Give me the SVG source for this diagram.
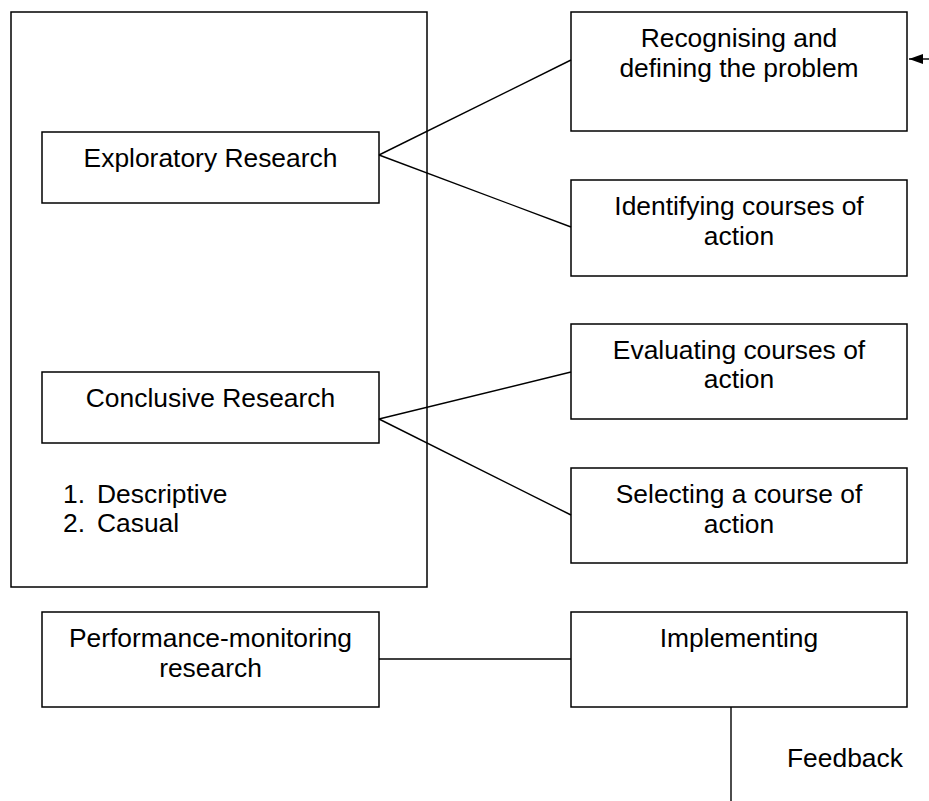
<svg xmlns="http://www.w3.org/2000/svg" width="929" height="801" viewBox="0 0 929 801">
  <style>
    .box { fill: #ffffff; stroke: #000000; stroke-width: 1.5; }
    .frame { fill: none; stroke: #000000; stroke-width: 1.5; }
    .link { fill: none; stroke: #000000; stroke-width: 1.4; }
    text { font-family: "Liberation Sans", Arial, sans-serif; font-size: 26.4px; fill: #000000; }
    .c { text-anchor: middle; }
  </style>
  <defs>
    <marker id="arrowhead" markerWidth="14" markerHeight="10" refX="14" refY="5" orient="auto" markerUnits="userSpaceOnUse">
      <path d="M0,0 L14,5 L0,10 Z" fill="#000000"/>
    </marker>
  </defs>

  <rect width="929" height="801" fill="#ffffff"/>

  <!-- Research types panel -->
  <g id="research-panel">
    <rect class="frame" x="11" y="12" width="416" height="575"/>
  </g>

  <g id="exploratory">
    <rect class="box" x="42" y="132" width="337" height="71"/>
    <text class="c" x="210.5" y="167">Exploratory Research</text>
  </g>

  <g id="conclusive">
    <rect class="box" x="42" y="372" width="337" height="71"/>
    <text class="c" x="210.5" y="407">Conclusive Research</text>
  </g>

  <g id="conclusive-kinds">
    <text x="63" y="503">1.</text>
    <text x="97" y="503">Descriptive</text>
    <text x="63" y="532">2.</text>
    <text x="97" y="532">Casual</text>
  </g>

  <g id="performance-monitoring">
    <rect class="box" x="42" y="612" width="337" height="95"/>
    <text class="c" x="210.5" y="647">Performance-monitoring</text>
    <text class="c" x="210.5" y="677">research</text>
  </g>

  <!-- Decision-making stages -->
  <g id="recognising">
    <rect class="box" x="571" y="12" width="336" height="119"/>
    <text class="c" x="739" y="47">Recognising and</text>
    <text class="c" x="739" y="77">defining the problem</text>
  </g>

  <g id="identifying">
    <rect class="box" x="571" y="180" width="336" height="96"/>
    <text class="c" x="739" y="215">Identifying courses of</text>
    <text class="c" x="739" y="245">action</text>
  </g>

  <g id="evaluating">
    <rect class="box" x="571" y="324" width="336" height="95"/>
    <text class="c" x="739" y="359">Evaluating courses of</text>
    <text class="c" x="739" y="388">action</text>
  </g>

  <g id="selecting">
    <rect class="box" x="571" y="468" width="336" height="95"/>
    <text class="c" x="739" y="503">Selecting a course of</text>
    <text class="c" x="739" y="533">action</text>
  </g>

  <g id="implementing">
    <rect class="box" x="571" y="612" width="336" height="95"/>
    <text class="c" x="739" y="647">Implementing</text>
  </g>

  <g id="feedback-label">
    <text x="787" y="767">Feedback</text>
  </g>

  <!-- Connectors -->
  <g id="connectors">
    <line class="link" x1="379" y1="155" x2="571" y2="60"/>
    <line class="link" x1="379" y1="155" x2="571" y2="227"/>
    <line class="link" x1="379" y1="419" x2="571" y2="372"/>
    <line class="link" x1="379" y1="419" x2="571" y2="515"/>
    <line class="link" x1="379" y1="659" x2="571" y2="659"/>
    <line class="link" x1="731" y1="707" x2="731" y2="801"/>
    <line class="link" x1="929" y1="59" x2="909" y2="59" marker-end="url(#arrowhead)"/>
  </g>
</svg>
